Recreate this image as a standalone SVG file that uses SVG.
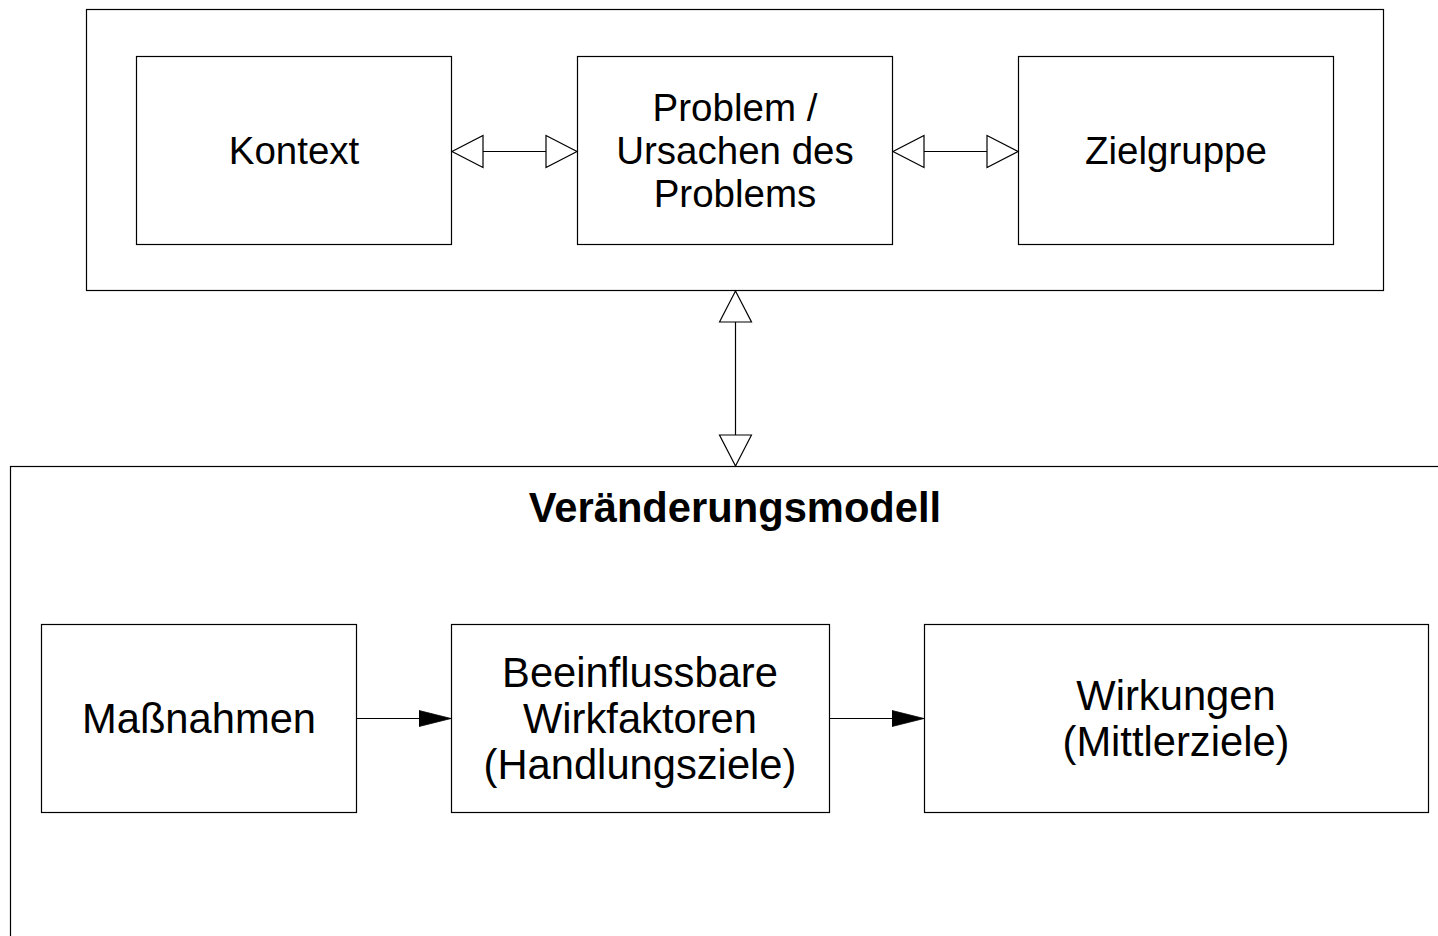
<svg xmlns="http://www.w3.org/2000/svg" width="1438" height="936" viewBox="0 0 1438 936">
<style>
.box{fill:#fff;stroke:#000;stroke-width:1.2}
.frame{fill:none;stroke:#000;stroke-width:1.2}
.conn{fill:none;stroke:#000;stroke-width:1.2}
.t{font-family:"Liberation Sans",Arial,sans-serif;font-size:38.5px;fill:#000;text-anchor:middle}
.b{font-family:"Liberation Sans",Arial,sans-serif;font-size:41.7px;fill:#000;text-anchor:middle}
.title{font-weight:bold}
</style>
<defs>
<marker id="open" markerUnits="userSpaceOnUse" markerWidth="34" markerHeight="36" refX="32" refY="17" orient="auto-start-reverse" viewBox="0 0 34 34">
<path d="M1,1 L32,17 L1,33 Z" fill="#fff" stroke="#000" stroke-width="1.2"/>
</marker>
<marker id="filled" markerUnits="userSpaceOnUse" markerWidth="34" markerHeight="18" refX="32" refY="8.5" orient="auto" viewBox="0 0 34 17">
<path d="M0,0.5 L32,8.5 L0,16.5 Z" fill="#000" stroke="#000" stroke-width="0.8"/>
</marker>
</defs>
<rect width="1438" height="936" fill="#fff"/>
<g id="context-frame"><rect class="frame" x="86.5" y="9.5" width="1297" height="281"/></g>
<g id="model-frame">
<rect class="frame" x="10.5" y="466.5" width="1450" height="500"/>
<text class="b title" x="735" y="522">Veränderungsmodell</text>
</g>
<g id="kontext"><rect class="box" x="136.5" y="56.5" width="315" height="188"/><text class="t" x="294" y="164">Kontext</text></g>
<g id="problem"><rect class="box" x="577.5" y="56.5" width="315" height="188"/>
<text class="t" x="735" y="121">Problem /</text><text class="t" x="735" y="164">Ursachen des</text><text class="t" x="735" y="207">Problems</text></g>
<g id="zielgruppe"><rect class="box" x="1018.5" y="56.5" width="315" height="188"/><text class="t" x="1176" y="164">Zielgruppe</text></g>
<g id="massnahmen"><rect class="box" x="41.5" y="624.5" width="315" height="188"/><text class="b" x="199" y="733">Maßnahmen</text></g>
<g id="wirkfaktoren"><rect class="box" x="451.5" y="624.5" width="378" height="188"/>
<text class="b" x="640" y="687">Beeinflussbare</text><text class="b" x="640" y="733">Wirkfaktoren</text><text class="b" x="640" y="779">(Handlungsziele)</text></g>
<g id="wirkungen"><rect class="box" x="924.5" y="624.5" width="504" height="188"/>
<text class="b" x="1176" y="710">Wirkungen</text><text class="b" x="1176" y="756">(Mittlerziele)</text></g>
<g id="connectors">
<line class="conn" x1="452" y1="151.5" x2="577" y2="151.5" marker-start="url(#open)" marker-end="url(#open)"/>
<line class="conn" x1="893" y1="151.5" x2="1018" y2="151.5" marker-start="url(#open)" marker-end="url(#open)"/>
<line class="conn" x1="735.5" y1="291" x2="735.5" y2="466" marker-start="url(#open)" marker-end="url(#open)"/>
<line class="conn" x1="357" y1="718.5" x2="451" y2="718.5" marker-end="url(#filled)"/>
<line class="conn" x1="830" y1="718.5" x2="924" y2="718.5" marker-end="url(#filled)"/>
</g>
</svg>
